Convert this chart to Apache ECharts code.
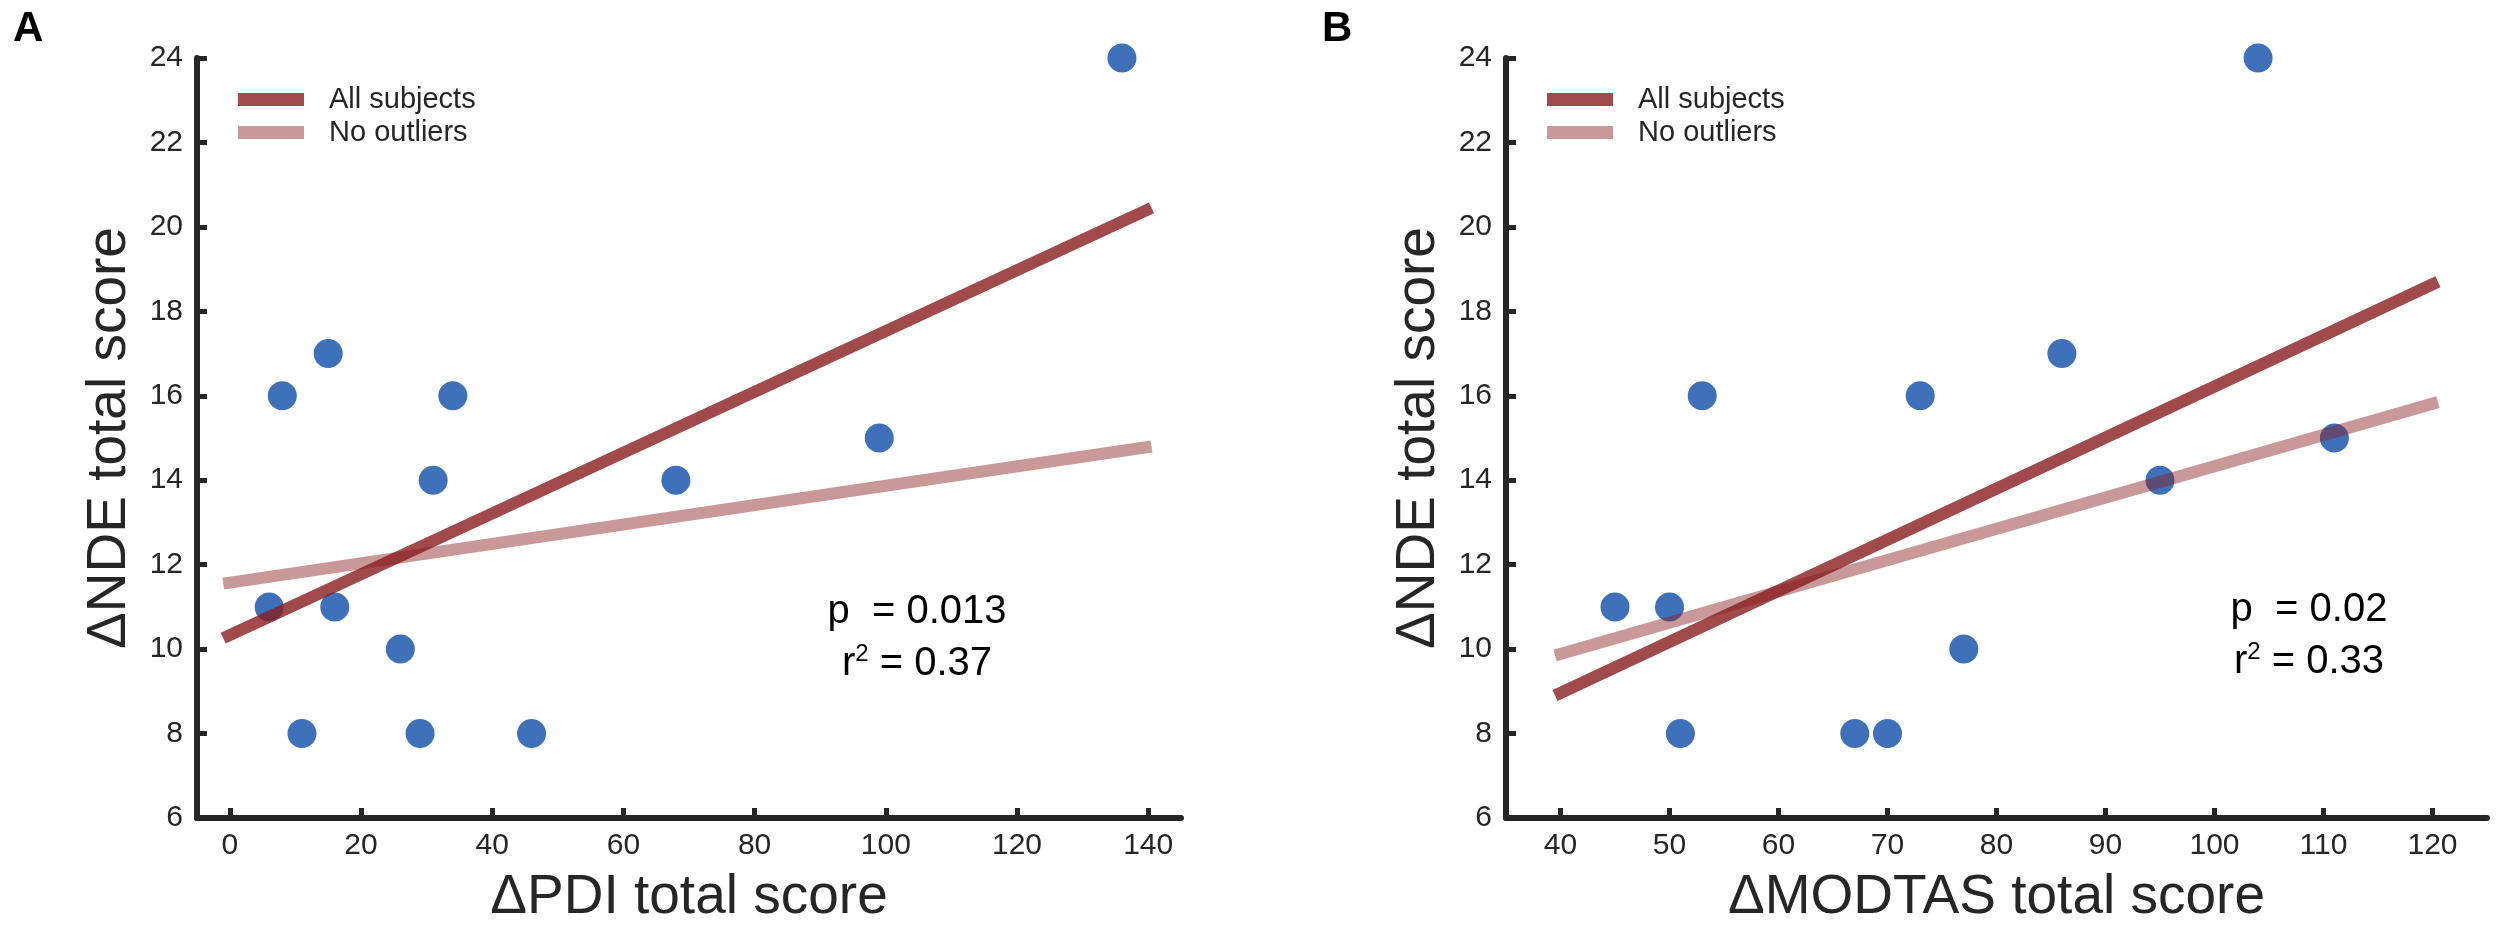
<!DOCTYPE html>
<html><head><meta charset="utf-8">
<script src="https://cdn.jsdelivr.net/npm/echarts@6/dist/echarts.min.js"></script>
<style>html,body{margin:0;padding:0;background:#fff}#c{width:2500px;height:930px}</style>
</head><body><div id="c"></div>
<script>
// Panel A: ΔPDI vs ΔNDE
const pdiX = [6, 8, 11, 15, 16, 26, 29, 31, 34, 46, 68, 99, 136];
const pdiY = [11, 16, 8, 17, 11, 10, 8, 14, 16, 8, 14, 15, 24];
// Panel B: ΔMODTAS vs ΔNDE
const modtasX = [45, 50, 51, 53, 67, 70, 73, 77, 86, 95, 104, 111];
const modtasY = [11, 11, 8, 16, 8, 8, 16, 10, 17, 14, 24, 15];
// regression line end points
const fitAllA = [[-1, 10.26], [140.5, 20.45]];
const fitNoOutA = [[-1, 11.55], [140.5, 14.8]];
const fitAllB = [[39.5, 8.9], [120.5, 18.7]];
const fitNoOutB = [[39.5, 9.85], [120.5, 15.85]];
// tick labels
const xTicksA = [0, 20, 40, 60, 80, 100, 120, 140];
const xTicksB = [40, 50, 60, 70, 80, 90, 100, 110, 120];
const statsA = ['0.013', '0.37'];
const statsB = ['0.02', '0.33'];
const seriesNames = ['All subjects', 'No outliers'];

const FF = '"Liberation Sans", Arial, Helvetica, sans-serif';
const AX = '#262626';
const DOT = '#3e71b9';
const C_ALL = 'rgba(136,29,30,0.8)';
const C_NO = 'rgba(136,29,30,0.45)';

const zip = (a, b) => a.map((v, i) => [v, b[i]]);

function xAxisCfg(idx, min, max, ticks, name) {
  return {
    type: 'value', gridIndex: idx, min: min, max: max, name: name,
    nameLocation: 'middle', nameGap: 52,
    nameTextStyle: {fontSize: 55, color: AX, fontFamily: FF},
    axisLine: {show: true, onZero: false, lineStyle: {color: AX, width: 6}},
    axisTick: {show: true, inside: true, length: 10, customValues: ticks, lineStyle: {color: AX, width: 5}},
    axisLabel: {customValues: ticks, fontSize: 30, color: AX, fontFamily: FF, margin: 13},
    splitLine: {show: false}
  };
}
function yAxisCfg(idx) {
  return {
    type: 'value', gridIndex: idx, min: 6, max: 24, interval: 2,
    name: 'ΔNDE total score', nameLocation: 'middle', nameGap: 60,
    nameTextStyle: {fontSize: 55, color: AX, fontFamily: FF},
    axisLine: {show: true, onZero: false, lineStyle: {color: AX, width: 6}},
    axisTick: {show: true, inside: true, length: 10, lineStyle: {color: AX, width: 5}},
    axisLabel: {fontSize: 30, color: AX, fontFamily: FF, margin: 14},
    splitLine: {show: false}
  };
}
function lineSeries(name, data, color, idx) {
  return {
    type: 'line', name: name, xAxisIndex: idx, yAxisIndex: idx, data: data,
    symbol: 'none', showSymbol: false, silent: true, z: 3,
    lineStyle: {color: color, width: 12, cap: 'butt'},
    itemStyle: {color: color}
  };
}
function scatterSeries(data, idx) {
  return {
    type: 'scatter', name: 'Subjects', xAxisIndex: idx, yAxisIndex: idx, data: data,
    symbolSize: 29, itemStyle: {color: DOT, opacity: 1}, z: 2
  };
}
function legendCfg(left) {
  return {
    left: left, top: 80, orient: 'vertical', data: seriesNames, icon: 'rect',
    itemWidth: 66, itemHeight: 13, itemGap: 4, selectedMode: false,
    textStyle: {fontSize: 29, color: AX, fontFamily: FF, padding: [0, 0, 0, 20]}
  };
}
function statText(cx, cy, p, r2) {
  return [
    {type: 'text', x: cx, y: cy, z: 10,
     style: {text: 'p  = ' + p, fontSize: 40, fontFamily: FF, fill: '#000', align: 'center', verticalAlign: 'middle'}},
    {type: 'text', x: cx, y: cy + 52, z: 10,
     style: {text: '{a|r}{s|2}{a| = ' + r2 + '}', fill: '#000', align: 'center', verticalAlign: 'middle',
       rich: {a: {fontSize: 40, fontFamily: FF, fill: '#000', lineHeight: 44},
              s: {fontSize: 24, fontFamily: FF, fill: '#000', verticalAlign: 'top', lineHeight: 44}}}}
  ];
}

const chart = echarts.init(document.getElementById('c'), null, {renderer: 'canvas'});
chart.setOption({
  animation: false,
  backgroundColor: '#fff',
  title: [
    {text: 'A', left: 13, top: 8, padding: 0, textStyle: {fontSize: 42, fontWeight: 'bold', color: '#000', fontFamily: FF}},
    {text: 'B', left: 1322, top: 8, padding: 0, textStyle: {fontSize: 42, fontWeight: 'bold', color: '#000', fontFamily: FF}}
  ],
  grid: [
    {left: 197, top: 58, width: 984, height: 765},
    {left: 1506, top: 58, width: 981, height: 765}
  ],
  xAxis: [
    xAxisCfg(0, -5, 145, xTicksA, 'ΔPDI total score'),
    xAxisCfg(1, 35, 125, xTicksB, 'ΔMODTAS total score')
  ],
  yAxis: [yAxisCfg(0), yAxisCfg(1)],
  legend: [legendCfg(233), legendCfg(1542)],
  series: [
    scatterSeries(zip(pdiX, pdiY), 0),
    lineSeries(seriesNames[0], fitAllA, C_ALL, 0),
    lineSeries(seriesNames[1], fitNoOutA, C_NO, 0),
    scatterSeries(zip(modtasX, modtasY), 1),
    lineSeries(seriesNames[0], fitAllB, C_ALL, 1),
    lineSeries(seriesNames[1], fitNoOutB, C_NO, 1)
  ],
  graphic: [].concat(statText(917, 612, statsA[0], statsA[1]), statText(2309, 610, statsB[0], statsB[1]))
});
</script></body></html>
